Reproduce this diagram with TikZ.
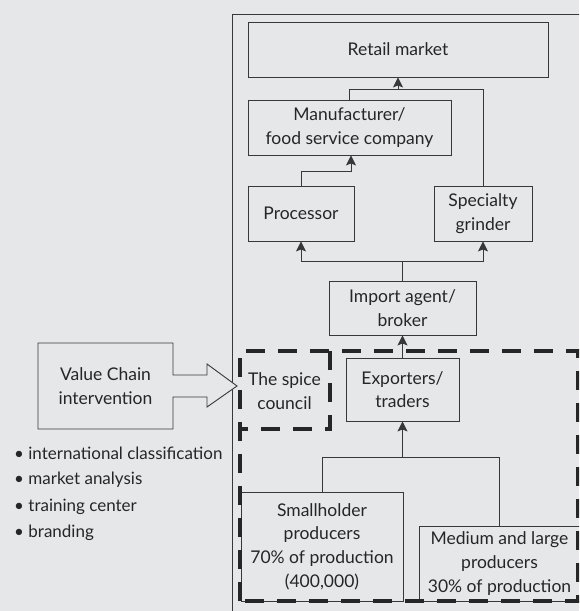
\documentclass[tikz,border=0pt]{standalone}
\usepackage{fontspec}
\setmainfont{Lato}
\usetikzlibrary{arrows.meta,calc}
\definecolor{bgcol}{HTML}{E6E7E8}
\definecolor{ink}{HTML}{262626}
\definecolor{edge}{HTML}{383838}
\tikzset{
  box/.style={draw=edge, line width=0.9pt, inner sep=0pt, align=center,
    text=ink, font=\fontsize{17.5}{23.6}\selectfont},
  arr/.style={draw=edge, line width=0.9pt, -{Stealth[length=10pt,width=10pt,inset=2pt]}},
  link/.style={draw=edge, line width=0.9pt},
  bigdash/.style={draw=ink, line width=3.3pt, dash pattern=on 19pt off 13pt},
  label/.style={text=ink, inner sep=0pt, align=center, font=\fontsize{17.5}{23.6}\selectfont},
  bullet/.style={text=ink, inner sep=0pt, anchor=west, font=\fontsize{17}{20}\selectfont}
}
\begin{document}
\begin{tikzpicture}[x=1pt, y=-1pt]
  \useasboundingbox (0,0) rectangle (579,611);
  \fill[bgcol] (0,0) rectangle (579,611);
  \clip (0,0) rectangle (579,611);

  % outer frame of the chain
  \draw[link] (232,640) -- (232,14) -- (620,14);

  % chain stages
  \node[box, minimum width=300pt, minimum height=55pt] (retail) at (398,49.5) {Retail market};
  \node[box, minimum width=203pt, minimum height=55pt] (manuf) at (349.5,127.5) {Manufacturer/\\food service company};
  \node[box, minimum width=106pt, minimum height=55pt] (proc) at (301,213.5) {Processor};
  \node[box, minimum width=98pt, minimum height=55pt] (grinder) at (483,213.5) {Specialty\\grinder};
  \node[box, minimum width=147pt, minimum height=54pt] (import) at (402.5,308) {Import agent/\\broker};
  \node[box, minimum width=113pt, minimum height=63pt] (export) at (402.5,389.5) {Exporters/\\traders};
  \node[box, minimum width=162pt, minimum height=109pt] (small) at (322,546.5) {Smallholder\\producers\\70\% of production\\(400,000)};
  \node[box, minimum width=161pt, minimum height=75pt] (medium) at (499.5,563.5) {Medium and large\\producers\\30\% of production};

  % junction points of the connectors
  \coordinate (j1) at (398,89);
  \coordinate (j2) at (402.5,261);
  \coordinate (j3) at (402.5,457);

  % connectors
  \draw[link] (manuf.north) |- (grinder.north |- j1) -- (grinder.north);
  \draw[arr] (j1) -- (retail.south);
  \draw[arr] (proc.north) |- ($(manuf.south)+(1.5,16)$) -- ($(manuf.south)+(1.5,0)$);
  \draw[link] (import.north) -- (j2);
  \draw[arr] (j2) -| (proc.south);
  \draw[arr] (j2) -| (grinder.south);
  \draw[arr] (export.north) -- (import.south);
  \draw[link] (small.north) |- (medium.north |- j3) -- (medium.north);
  \draw[arr] (j3) -- (export.south);

  % dashed groupings
  \node[label] (spice) at (284.5,391) {The spice\\council};
  \draw[bigdash] (330,351) -- (330,429) -- (240,429);
  \draw[bigdash] (240,601) -- (240,351) -- (578,351) -- (578,601) -- cycle;

  % intervention box with its arrow
  \draw[link, fill=bgcol] (38,343) -- (173,343) -- (173,375) -- (207,375) -- (207,364)
    -- (237,386) -- (207,407) -- (207,397) -- (173,397) -- (173,429) -- (38,429) -- cycle;
  \node[label] (vci) at (105.5,386) {Value Chain\\intervention};

  % intervention activities
  \node[bullet] (b1) at (14,453) {\textbullet\ international classification};
  \node[bullet] (b2) at (14,480) {\textbullet\ market analysis};
  \node[bullet] (b3) at (14,507) {\textbullet\ training center};
  \node[bullet] (b4) at (14,533) {\textbullet\ branding};
\end{tikzpicture}
\end{document}
